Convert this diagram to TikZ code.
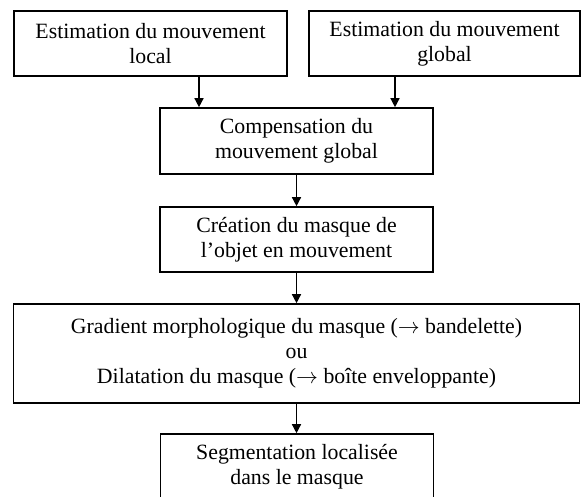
\documentclass[tikz,border=0pt]{standalone}
\usepackage{fontspec}
\setmainfont{Liberation Serif}
\usetikzlibrary{arrows.meta}

\begin{document}
\begin{tikzpicture}[x=0.5pt,y=-0.5pt,
		bloc/.style={draw, line width=0.8pt, align=center, inner sep=0pt, font=\fontsize{10.9}{12.5}\selectfont},
		fleche/.style={-{Triangle[length=4.5pt,width=4.5pt]}, line width=0.7pt}]
		\useasboundingbox (0,0) rectangle (581,496);
		%Estimations
		\node [bloc, minimum width=136.5pt, minimum height=32.5pt] (local) at (150.5,43.5) {Estimation du mouvement\\local};
		\node [bloc, minimum width=135.5pt, minimum height=32.5pt] (global) at (444.5,43.5) {Estimation du mouvement\\global};
		%Compensation
		\node [bloc, minimum width=136.5pt, minimum height=33pt] (comp) at (296.5,141) {Compensation du\\mouvement global};
		\node [bloc, minimum width=136.5pt, minimum height=32.5pt] (masque) at (296.5,239.5) {Création du masque de\\l’objet en mouvement};
		%Gradient ou dilatation
		\node [bloc, minimum width=283pt, minimum height=49.5pt] (morpho) at (296.5,353.5) {Gradient morphologique du masque ($\rightarrow$ bandelette)\\ou\\Dilatation du masque ($\rightarrow$ boîte enveloppante)};
		%Segmentation
		\node [bloc, minimum width=136.5pt, minimum height=33pt] (segm) at (297,467) {Segmentation localisée\\dans le masque};
		
		\coordinate (inL) at (199,108);
		\coordinate (inG) at (395,108);
		\draw [fleche] (inL |- local.south) -- (inL |- comp.north);
		\draw [fleche] (inG |- global.south) -- (inG |- comp.north);
		\draw [fleche] (comp.south) -- (masque.north);
		\draw [fleche] (masque.south) -- (morpho.north);
		\draw [fleche] (morpho.south) -- (morpho.south |- segm.north);
	\end{tikzpicture}
\end{document}
